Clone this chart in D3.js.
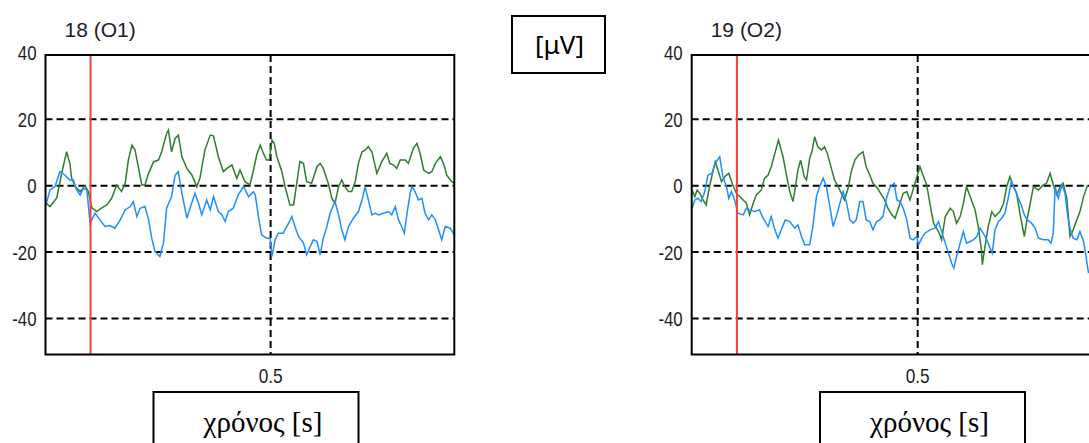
<!DOCTYPE html>
<html>
<head>
<meta charset="utf-8">
<script src="https://cdn.jsdelivr.net/npm/d3@7"></script>
<style>
  body { margin: 0; background: #fff; }
  svg { display: block; }
  .serif { font-family: 'Liberation Serif', 'DejaVu Serif', 'Times New Roman', serif; }
</style>
</head>
<body>
<svg id="chart" width="1089" height="443"></svg>
<script>
// tick values and labels
var voltTicks = [40, 20, 0, -20, -40];
var voltGrid = [20, 0, -20, -40];
var timeTicks = [0.5];
var markerTime = 0.1;
var panelTitles = ['18 (O1)', '19 (O2)'];
var unitLabel = '[μV]';
var timeLabel = 'χρόνος [s]';

// traces: [time in ms, value in μV]
var o1Green = [[1,-5.2],[10,-6.3],[25,-3.7],[36,3.8],[47,10.2],[54,6.8],[58,2.3],[66,-0.3],[77,-1.8],[88,0],[95,-1.8],[103,-6.7],[114,-7.8],[125,-6.7],[136,-5.8],[147,-3.8],[158,0.2],[169,-1.8],[177,0.7],[184,7.7],[192,12.2],[199,10.7],[206,5.7],[214,0.2],[221,0.2],[229,3.7],[240,7.2],[251,7.7],[258,10.2],[269,15.7],[273,16.7],[280,10.2],[288,14.2],[295,15.2],[303,8.7],[314,5.2],[325,3.2],[336,-0.3],[343,2.2],[354,10.7],[366,15.2],[373,15],[384,8.7],[395,4.2],[403,5.2],[414,6.2],[425,2.2],[432,4.7],[443,1.2],[454,0.2],[462,4.7],[469,9.2],[477,12.2],[484,9.7],[491,7.7],[497,7.7],[503,13.7],[508,12.7],[514,8.7],[525,4.2],[532,-0.3],[543,-5.8],[551,-5.8],[558,0.7],[565,7.2],[573,6.7],[580,1.2],[591,0.7],[603,5.7],[610,6.7],[617,5.2],[628,0.7],[636,-3.8],[643,-5.3],[651,-0.3],[658,1.7],[665,-0.3],[673,-1.8],[680,-1.8],[688,1.2],[695,6.7],[703,10.2],[710,10.7],[717,11.7],[725,10.2],[736,3.7],[747,7.2],[758,9.7],[765,6.7],[773,6.2],[780,5.2],[788,7.7],[799,7.7],[806,6.7],[817,11.2],[825,12.7],[832,9.7],[840,4.7],[851,3.7],[858,4.2],[866,6.7],[877,8.7],[884,6.7],[891,3.2],[899,1.7],[908,0.7]];

var o1Blue = [[1,-5.8],[10,-1.3],[21,-0.3],[32,4.2],[43,3.2],[54,1.7],[62,1.7],[69,-1.3],[77,-2.8],[84,-0.8],[92,-1.3],[99,-11.3],[110,-8.3],[121,-10.3],[132,-12.3],[143,-12],[154,-12.8],[166,-10.3],[177,-7.3],[188,-6.3],[195,-4.8],[203,-9.3],[210,-6.8],[221,-6.3],[229,-10.3],[236,-15.8],[243,-19.8],[254,-21.3],[262,-17.3],[269,-6.8],[280,-3.3],[288,3.2],[295,4.2],[303,-2.3],[314,-9.8],[321,-6.8],[332,-2.3],[340,-5.3],[347,-8.8],[358,-4.3],[366,-7.3],[373,-3.3],[384,-7.8],[392,-8.8],[399,-10.8],[406,-7.8],[417,-6.8],[428,-2.8],[440,-0.3],[451,-3.3],[462,-1.8],[466,-2.8],[473,-9.3],[480,-14.8],[491,-15.8],[499,-15.8],[503,-21.3],[510,-16.3],[517,-14.3],[528,-14.3],[540,-11.3],[547,-9.3],[554,-12.3],[562,-15.3],[573,-17.3],[580,-20.8],[588,-18.3],[595,-16.3],[603,-16.8],[610,-20.8],[617,-15.8],[625,-12.3],[632,-8.3],[643,-4.8],[651,-8.8],[658,-13.3],[665,-16.3],[673,-12.3],[684,-9.8],[695,-7.8],[703,-4.3],[710,-0.3],[717,-4.3],[725,-8.8],[732,-8.3],[740,-8.8],[751,-8.3],[762,-7.8],[769,-8.8],[777,-6.3],[784,-10.3],[791,-12.3],[797,-14.3],[803,-8.3],[810,-2.3],[814,-0.3],[821,-1.8],[828,-4.3],[836,-3.8],[843,-8.3],[851,-10.3],[858,-8.8],[866,-10.3],[873,-13.3],[880,-16.3],[888,-12.3],[899,-12.8],[908,-14.8]];

var o2Green = [[1,-1.3],[7,-3.3],[12,-1.3],[18,-2.3],[25,-4.3],[32,-5.8],[38,-1.3],[45,3.2],[52,7.2],[58,4.7],[66,1.2],[73,2.7],[82,3.7],[91,0.2],[99,-2.3],[110,-3.8],[121,-5.3],[128,-8.8],[136,-5.3],[143,-2.8],[154,-1.3],[161,2.2],[169,3.2],[176,5.7],[184,9.7],[192,13.7],[202,8.7],[209,3.7],[217,-1.8],[224,-4.8],[229,-0.8],[235,4.7],[241,7.7],[249,2.7],[254,1.7],[261,8.2],[266,10.2],[272,14.7],[279,11.7],[287,10.7],[294,11.7],[300,9.7],[309,5.2],[316,1.7],[324,-0.3],[331,-2.3],[338,-4.3],[346,-0.8],[353,4.2],[361,7.7],[369,9.2],[379,10.2],[386,5.7],[394,3.2],[401,0.7],[411,-0.8],[420,-2.8],[427,-4.3],[434,-6.8],[443,-8.8],[450,-9.8],[468,-2.3],[476,-1.8],[483,-4.3],[494,0.7],[505,5.7],[513,2.7],[520,0.2],[527,-5.3],[535,-11.3],[546,-13.8],[553,-16.3],[561,-9.3],[572,-6.8],[579,-7.8],[586,-11.3],[594,-9.3],[601,-5.3],[608,-0.3],[616,-3.3],[627,-7.3],[634,-12.3],[641,-19.3],[643,-23.8],[649,-18.3],[656,-12.3],[664,-7.8],[671,-9.3],[682,-7.8],[690,-5.3],[697,-0.3],[704,2.7],[712,-0.3],[719,-2.3],[726,-8.3],[736,-15.3],[741,-10.8],[749,-5.3],[756,-0.3],[767,-1.3],[778,0.2],[785,0.7],[793,3.7],[800,0.2],[808,-2.8],[815,-0.3],[822,0.7],[830,-3.8],[837,-15.3],[844,-13.3],[852,-10.3],[859,-7.8],[867,-3.3],[876,0.2]];

var o2Blue = [[1,-6.8],[7,-4.3],[14,-3.8],[21,-4.8],[29,-1.8],[36,3.2],[45,3.7],[52,6.7],[62,8.7],[69,2.7],[77,-0.3],[82,-3.8],[88,-1.8],[95,-4.3],[102,-8.3],[114,-8.8],[121,-6.8],[128,-7.3],[139,-7.8],[150,-7.3],[158,-9.8],[169,-12.3],[176,-9.3],[184,-13.3],[191,-15.8],[198,-13.3],[207,-10.3],[217,-10.8],[228,-12.8],[235,-11.8],[243,-15.3],[250,-17.8],[261,-17.8],[268,-12.3],[276,-3.3],[283,-0.3],[291,2.2],[298,-0.3],[305,-5.8],[313,-12.3],[320,-9.3],[327,-5.8],[335,-1.8],[342,-4.8],[350,-10.3],[357,-11.3],[364,-10.3],[372,-4.8],[379,-4.8],[386,-10.3],[394,-10.8],[401,-13.3],[409,-10.8],[416,-10.3],[423,-9.3],[431,-3.8],[438,-0.8],[443,0.2],[448,0.7],[454,-4.3],[461,-4.8],[468,-6.8],[476,-10.3],[483,-15.8],[490,-16.3],[498,-15.3],[502,-17.8],[509,-15.8],[516,-14.3],[527,-13.3],[538,-12.8],[546,-10.8],[553,-13.8],[561,-17.3],[568,-20.3],[575,-23.3],[580,-24.8],[586,-21.3],[594,-17.3],[601,-13.8],[608,-17.3],[616,-16.8],[623,-16.3],[631,-15.3],[638,-12.8],[645,-14.3],[653,-16.3],[660,-18.8],[665,-20.3],[671,-13.3],[679,-10.8],[686,-9.8],[693,-8.3],[701,-3.3],[707,1.2],[714,-0.8],[721,-3.3],[729,-5.8],[736,-8.8],[743,-10.3],[752,-11.3],[760,-12.8],[767,-15.8],[778,-16.3],[789,-16.3],[795,-17.3],[800,-14.3],[804,-0.3],[811,-3.8],[819,0.2],[826,-2.3],[832,-9.3],[838,-13.3],[844,-15.8],[852,-16.3],[859,-13.8],[867,-16.8],[870,-19.3],[878,-26.3]];

var svg = d3.select('#chart');
var plotTop = 55, plotBottom = 354.5;
var greenColor = '#2f7d2f', blueColor = '#1e8fff', redColor = '#ff3c3c';
var labelFont = "'Liberation Sans', Arial, sans-serif";

// squeeze tick labels a bit, the originals are narrow
function narrow(sel, k) {
  sel.each(function() {
    var w = this.getComputedTextLength();
    d3.select(this).attr('textLength', w * k).attr('lengthAdjust', 'spacingAndGlyphs');
  });
}

function drawPanel(idx, left, width, green, blue) {
  var x = d3.scaleLinear().domain([0, 0.908]).range([left, left + width]);
  var y = d3.scaleLinear().domain([-50.8, 39.3]).range([plotBottom, plotTop]);
  var g = svg.append('g');

  var clipId = 'clip' + idx;
  g.append('clipPath').attr('id', clipId)
    .append('rect')
    .attr('x', left).attr('y', plotTop)
    .attr('width', width).attr('height', plotBottom - plotTop);

  // dashed grid
  g.selectAll('.hgrid').data(voltGrid).enter().append('line')
    .attr('x1', left).attr('x2', left + width)
    .attr('y1', d => y(d)).attr('y2', d => y(d))
    .style('stroke', '#000').style('stroke-width', 2)
    .style('stroke-dasharray', '7,4');
  g.selectAll('.vgrid').data(timeTicks).enter().append('line')
    .attr('x1', d => x(d)).attr('x2', d => x(d))
    .attr('y1', plotTop).attr('y2', plotBottom)
    .style('stroke', '#000').style('stroke-width', 2)
    .style('stroke-dasharray', '7,4');

  var line = d3.line()
    .x(d => x(d[0] / 1000))
    .y(d => y(d[1]));

  var traces = g.append('g').attr('clip-path', 'url(#' + clipId + ')');
  traces.append('path').datum(green)
    .attr('d', line)
    .style('fill', 'none').style('stroke', greenColor).style('stroke-width', 1.5);
  traces.append('path').datum(blue)
    .attr('d', line)
    .style('fill', 'none').style('stroke', blueColor).style('stroke-width', 1.5);

  // stimulus marker
  g.append('line')
    .attr('x1', x(markerTime)).attr('x2', x(markerTime))
    .attr('y1', plotTop).attr('y2', plotBottom)
    .style('stroke', redColor).style('stroke-width', 2);

  // frame
  g.append('rect')
    .attr('x', left).attr('y', plotTop)
    .attr('width', width).attr('height', plotBottom - plotTop)
    .style('fill', 'none').style('stroke', '#000').style('stroke-width', 2);

  // y tick labels
  var yl = g.selectAll('.ylab').data(voltTicks).enter().append('text')
    .attr('x', left - 9)
    .attr('y', d => y(d))
    .attr('dy', '0.36em')
    .attr('text-anchor', 'end')
    .style('font-family', labelFont)
    .style('font-size', '21px')
    .style('fill', '#1c1c1c')
    .text(d => d);
  narrow(yl, 0.8);

  // x tick labels
  var xl = g.selectAll('.xlab').data(timeTicks).enter().append('text')
    .attr('x', d => x(d))
    .attr('y', plotBottom + 28)
    .attr('text-anchor', 'middle')
    .style('font-family', labelFont)
    .style('font-size', '21px')
    .style('fill', '#1c1c1c')
    .text(d => d);
  narrow(xl, 0.82);

  // channel title
  g.append('text')
    .attr('x', left + 19)
    .attr('y', 37)
    .style('font-family', labelFont)
    .style('font-size', '21px')
    .style('fill', '#1c1c2a')
    .text(panelTitles[idx]);

  return x;
}

drawPanel(0, 45.5, 408.8, o1Green, o1Blue);
drawPanel(1, 691.7, 410.4, o2Green, o2Blue);

// unit box
svg.append('rect')
  .attr('x', 512).attr('y', 16).attr('width', 93).attr('height', 57)
  .style('fill', '#fff').style('stroke', '#000').style('stroke-width', 2);
svg.append('text')
  .attr('x', 559.5).attr('y', 54)
  .attr('text-anchor', 'middle')
  .style('font-family', "'Noto Sans', sans-serif")
  .style('font-size', '26px')
  .text(unitLabel);

// time label boxes
[[153.5, 205], [820, 205]].forEach(function(b) {
  svg.append('rect')
    .attr('x', b[0]).attr('y', 392).attr('width', b[1]).attr('height', 70)
    .style('fill', '#fff').style('stroke', '#000').style('stroke-width', 2);
  svg.append('text')
    .attr('class', 'serif')
    .attr('x', b[0] + b[1] / 2 + 7).attr('y', 432)
    .attr('text-anchor', 'middle')
    .style('font-size', '29px')
    .text(timeLabel);
});
</script>
</body>
</html>
